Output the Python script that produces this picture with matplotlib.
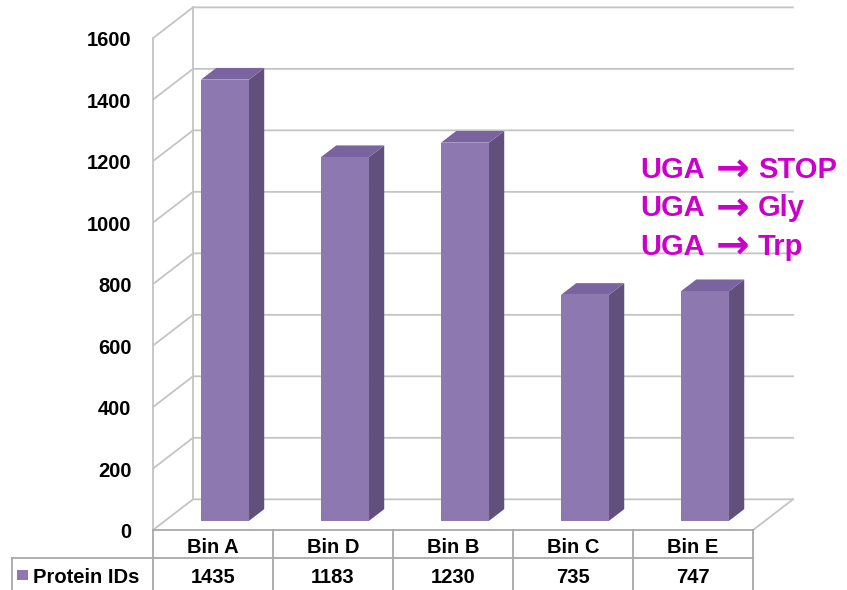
import numpy as np
import matplotlib.pyplot as plt
from matplotlib.patches import Polygon, Rectangle

plt.rcParams['font.family'] = ['Liberation Sans', 'DejaVu Sans']

# Data
bins = ['Bin A', 'Bin D', 'Bin B', 'Bin C', 'Bin E']
protein_ids = [1435, 1183, 1230, 735, 747]
series_name = 'Protein IDs'
y_ticks = [0, 200, 400, 600, 800, 1000, 1200, 1400, 1600]
note_from = ['UGA', 'UGA', 'UGA']
note_to = ['STOP', 'Gly', 'Trp']

# colours
c_front = '#8E78B0'
c_side = '#62507C'
c_top = '#7A64A0'
c_grid = '#C4C4C4'
c_table = '#A8A8A8'
c_note = '#CC00CC'

# depth offset of back wall (data units)
DX, DY = 1 / 3, 100


def proj(x, v, d):
    return (x + d * DX, v + d * DY)


fig = plt.figure(figsize=(8.47, 5.90), dpi=100)
ax = fig.add_axes([0, 0, 1, 1])
ax.set_xlim(-1.775, 5.283)
ax.set_ylim(-195, 1724)
ax.axis('off')

n = len(bins)
x = np.arange(n)
x0, x1 = -0.5, n - 0.5

# walls + gridlines
for v in y_ticks:
    ax.plot([x0, x0 + DX, x1 + DX], [v, v + DY, v + DY], color=c_grid, lw=1.3)
    ax.text(x0 - 0.18, v - 8, str(v), ha='right', va='center',
            fontsize=14.5, fontweight='bold')
ax.plot([x0, x0], [0, y_ticks[-1]], color=c_grid, lw=1.3)
ax.plot([x0 + DX, x0 + DX], [DY, y_ticks[-1] + DY], color=c_grid, lw=1.3)
ax.plot([x1, x1 + DX], [0, DY], color=c_grid, lw=1.3)

# bars
w = 0.2
d0, d1 = 0.3, 0.68
for xi, v in zip(x, protein_ids):
    a, b = xi - w, xi + w
    front = [proj(a, 0, d0), proj(b, 0, d0), proj(b, v, d0), proj(a, v, d0)]
    side = [proj(b, 0, d0), proj(b, 0, d1), proj(b, v, d1), proj(b, v, d0)]
    top = [proj(a, v, d0), proj(b, v, d0), proj(b, v, d1), proj(a, v, d1)]
    ax.add_patch(Polygon(side, closed=True, fc=c_side, ec='none', zorder=3))
    ax.add_patch(Polygon(top, closed=True, fc=c_top, ec='none', zorder=3))
    ax.add_patch(Polygon(front, closed=True, fc=c_front, ec='none', zorder=4))

# data table
row_sep = -91
bottom = -195
left = -1.675
ax.plot([x0, x1], [0, 0], color=c_table, lw=1.3)
ax.plot([left, x1], [row_sep, row_sep], color=c_table, lw=1.3)
ax.plot([left, left], [row_sep, bottom], color=c_table, lw=1.3)
for k in range(n + 1):
    ax.plot([x0 + k, x0 + k], [0, bottom], color=c_table, lw=1.3)
for xi, name, v in zip(x, bins, protein_ids):
    ax.text(xi, -58, name, ha='center', va='center', fontsize=14.5, fontweight='bold')
    ax.text(xi, -153, str(v), ha='center', va='center', fontsize=14.5, fontweight='bold')
ax.add_patch(Rectangle((-1.633, -163), 0.092, 34, fc=c_front, ec='none'))
ax.text(-1.5, -153, series_name, ha='left', va='center', fontsize=14.5, fontweight='bold')

# annotation
for i, (s, t) in enumerate(zip(note_from, note_to)):
    yb = 1145 - i * 125
    ax.text(3.558, yb, s, ha='left', va='baseline',
            fontsize=21, fontweight='bold', color=c_note)
    ax.text(4.19, yb - 12, '\u2192', ha='left', va='baseline', family='DejaVu Sans',
            fontsize=29, fontweight='bold', color=c_note)
    ax.text(4.54, yb, t, ha='left', va='baseline',
            fontsize=21, fontweight='bold', color=c_note)

fig.savefig('out.png', dpi=100)
